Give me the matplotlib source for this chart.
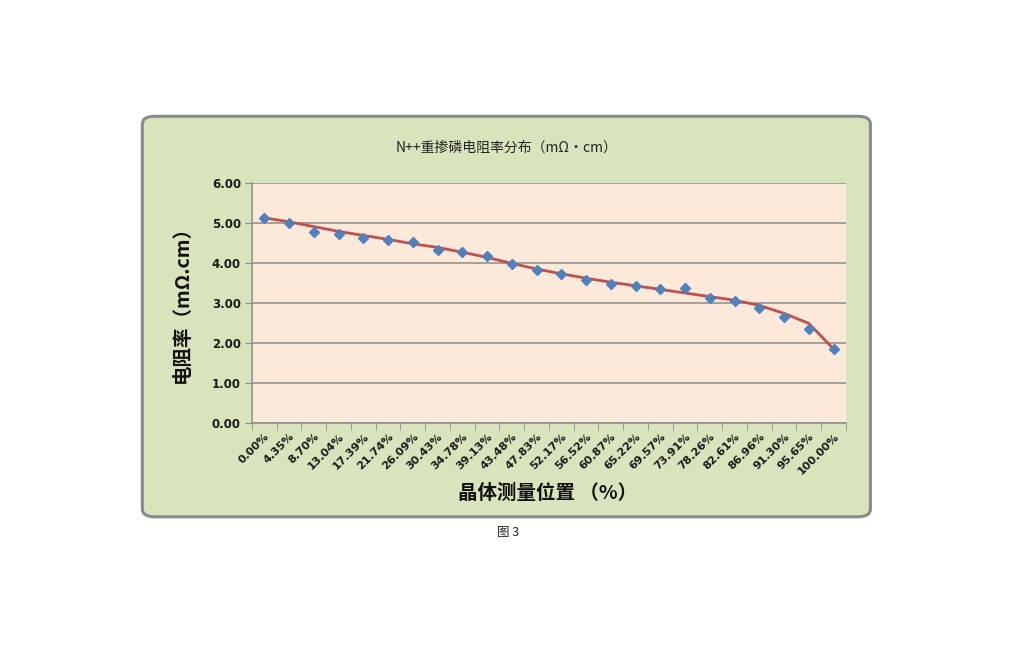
import numpy as np
import matplotlib
matplotlib.use("Agg")
from matplotlib import pyplot as plt
from matplotlib.patches import FancyBboxPatch

plt.rcParams['font.family'] = ['Noto Sans CJK SC', 'DejaVu Sans']

# category labels (measurement position along crystal)
positions = ["0.00%", "4.35%", "8.70%", "13.04%", "17.39%", "21.74%", "26.09%",
             "30.43%", "34.78%", "39.13%", "43.48%", "47.83%", "52.17%", "56.52%",
             "60.87%", "65.22%", "69.57%", "73.91%", "78.26%", "82.61%", "86.96%",
             "91.30%", "95.65%", "100.00%"]
# measured resistivity (mOhm.cm)
resistivity = [5.13, 4.99, 4.78, 4.73, 4.63, 4.58, 4.53, 4.33, 4.28, 4.18, 3.98, 3.83,
               3.72, 3.58, 3.48, 3.43, 3.36, 3.37, 3.12, 3.06, 2.87, 2.66, 2.36, 1.85]
# trend line as drawn in the chart
trend = [5.13, 5.03, 4.91, 4.79, 4.69, 4.59, 4.48, 4.39, 4.27, 4.14, 3.99, 3.85,
         3.73, 3.62, 3.52, 3.43, 3.34, 3.25, 3.16, 3.07, 2.94, 2.74, 2.49, 1.85]
yticks = [0, 1, 2, 3, 4, 5, 6]

fig = plt.figure(figsize=(10.24, 6.46), dpi=100)
fig.patch.set_facecolor("white")

# green chart panel
panel = FancyBboxPatch((0.139, 0.200), 0.711, 0.620,
                       boxstyle="round,pad=0,rounding_size=0.012",
                       transform=fig.transFigure, facecolor="#d8e4bc",
                       edgecolor="#8a8a8a", linewidth=2.2, zorder=-5)
fig.patches.append(panel)

ax = fig.add_axes([0.2461, 0.3452, 0.580, 0.3715])
ax.set_zorder(2)
ax.set_facecolor("#fde9d9")

x = np.arange(len(positions))
ax.plot(x, trend, color="#c0504d", linewidth=2, zorder=3)
ax.plot(x, resistivity, linestyle="none", marker="D", markersize=5,
        color="#4f81bd", markeredgecolor="#4f81bd", zorder=4)

ax.set_xlim(-0.5, len(positions) - 0.5)
ax.set_ylim(0, 6)
ax.set_yticks(yticks)
ax.set_yticklabels(["%.2f" % v for v in yticks], fontsize=8.5,
                   fontweight="bold", family="DejaVu Sans", color="#1a1a1a")
ax.yaxis.grid(True, color="#8c8c8c", linewidth=1.1)
ax.set_axisbelow(True)
ax.tick_params(axis="y", length=5, color="#8c8c8c", pad=3)

ax.set_xticks(x)
ax.set_xticklabels(positions, rotation=45, ha="right", va="top",
                   rotation_mode="anchor", fontsize=8, fontweight="bold",
                   family="DejaVu Sans", color="#1a1a1a")
ax.set_xticks(np.arange(-0.5, len(positions)), minor=True)
ax.tick_params(axis="x", which="major", length=0, pad=6)
ax.tick_params(axis="x", which="minor", length=5, color="#8c8c8c")

for s in ["top", "right"]:
    ax.spines[s].set_visible(False)
for s in ["left", "bottom"]:
    ax.spines[s].set_color("#8c8c8c")
    ax.spines[s].set_linewidth(1.1)

fig.text(0.495, 0.772, "N++重掺磷电阻率分布（mΩ・cm）", ha="center", va="center",
         fontsize=10, color="#222222")
fig.text(0.178, 0.536, "电阻率（mΩ.cm）", ha="center", va="center", rotation=90,
         fontsize=14, fontweight="bold", color="#111111")
fig.text(0.535, 0.236, "晶体测量位置 （%）", ha="center", va="center",
         fontsize=14, fontweight="bold", color="#111111")
fig.text(0.496, 0.175, "图 3", ha="center", va="center", fontsize=9,
         color="#222222")

fig.savefig("out.png", dpi=100, facecolor="white")
